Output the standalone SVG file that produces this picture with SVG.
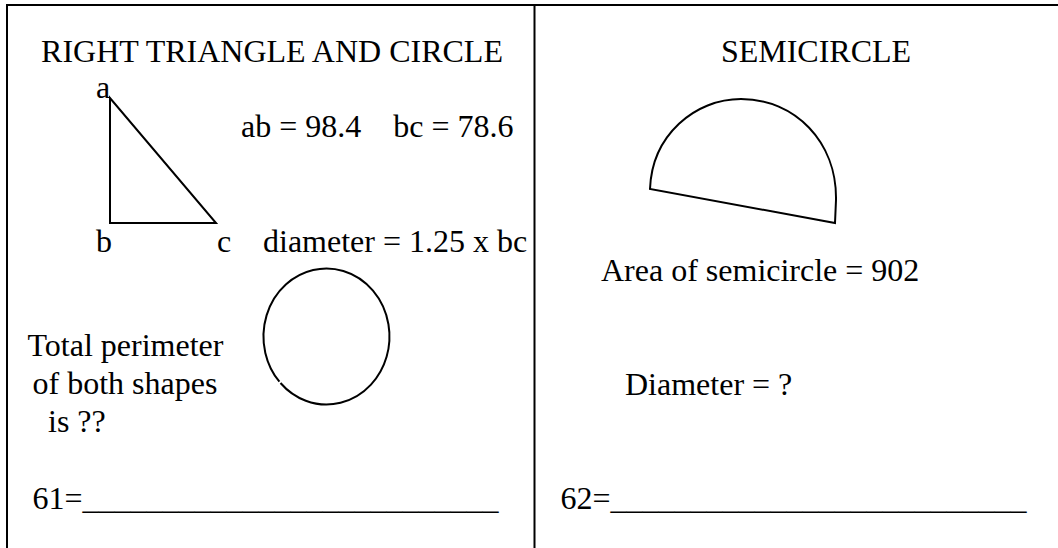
<svg xmlns="http://www.w3.org/2000/svg" width="1058" height="548" viewBox="0 0 1058 548">
<style>
  .t { font-family: "Liberation Serif", "Times New Roman", serif; font-size: 32px; fill: #000; white-space: pre; }
  .ln { stroke: #000; stroke-width: 2; fill: none; }
  .shape { stroke: #000; stroke-width: 2; fill: none; stroke-linejoin: miter; }
</style>
<rect width="1058" height="548" fill="#fff"/>
<g id="frame">
  <line class="ln" x1="6" y1="5" x2="1058" y2="5"/>
  <line class="ln" x1="7" y1="4" x2="7" y2="548"/>
  <line class="ln" x1="534.5" y1="4" x2="534.5" y2="548"/>
</g>
<g id="left-panel">
  <text class="t" x="272" y="62" text-anchor="middle">RIGHT TRIANGLE AND CIRCLE</text>
  <g id="triangle">
    <polygon class="shape" points="110,98 110,223 216,223"/>
    <text class="t" x="96" y="98">a</text>
    <text class="t" x="96" y="252">b</text>
    <text class="t" x="217" y="252">c</text>
  </g>
  <text class="t" x="241" y="137">ab = 98.4    bc = 78.6</text>
  <text class="t" x="263" y="252">diameter = 1.25 x bc</text>
  <g id="circle">
    <path class="shape" d="M280.5,383 A63,68 0 1 0 279.4,381.7"/>
  </g>
  <text class="t" x="27.5" y="356">Total perimeter</text>
  <text class="t" x="32.5" y="394">of both shapes</text>
  <text class="t" x="48" y="432">is ??</text>
  <text class="t" x="32.5" y="509">61=__________________________</text>
</g>
<g id="right-panel">
  <text class="t" x="816" y="62" text-anchor="middle">SEMICIRCLE</text>
  <g id="semicircle">
    <path class="shape" d="M650,189 C652,135 695,99 741,99 C795,99 837,142 836,200 L835,223 Z"/>
  </g>
  <text class="t" x="601" y="281">Area of semicircle = 902</text>
  <text class="t" x="625" y="395">Diameter = ?</text>
  <text class="t" x="560.5" y="509">62=__________________________</text>
</g>
</svg>
